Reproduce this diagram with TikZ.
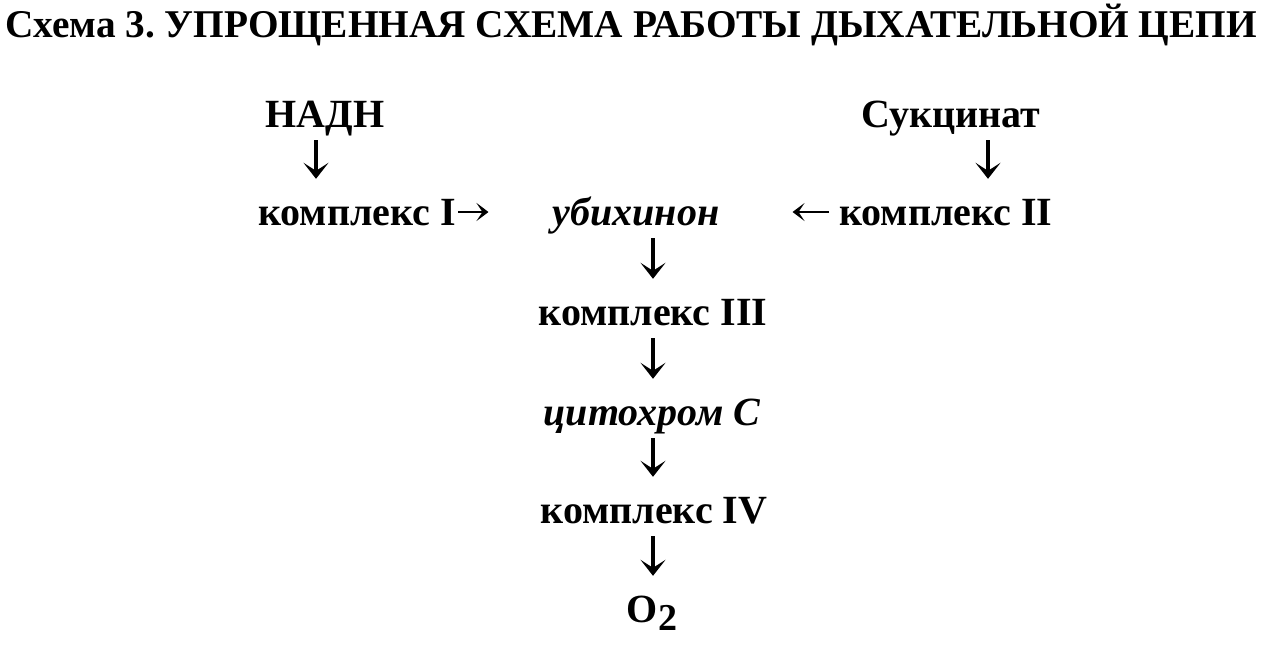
\documentclass[tikz,border=0pt]{standalone}
\usepackage{fontspec}
\setmainfont{Liberation Serif}
\usetikzlibrary{arrows.meta,calc}
\frenchspacing
\tikzset{
  lbl/.style={font=\fontsize{40}{40}\selectfont\bfseries, inner sep=0pt, text height=27pt, text depth=0pt},
  ital/.style={lbl, font=\fontsize{40}{40}\selectfont\bfseries\itshape},
  ttl/.style={font=\fontsize{39.3}{39.3}\selectfont\bfseries, inner sep=0pt, anchor=base west},
  darr/.style={line width=3.2pt, -{Stealth[length=16pt,width=25pt,inset=8pt]}, shorten <=13pt, shorten >=19pt},
  harr/.style={line width=2.2pt, -{Stealth[length=12pt,width=18pt,inset=6pt]}}
}
\begin{document}
\begin{tikzpicture}[x=1pt,y=1pt]
\useasboundingbox (0,0) rectangle (1273,-653);
\node[ttl] (title) at (5,-37) {Схема 3. УПРОЩЕННАЯ СХЕМА РАБОТЫ ДЫХАТЕЛЬНОЙ ЦЕПИ};
\node[lbl, anchor=base] (nadh) at (325,-127) {НАДН};
\node[lbl, anchor=base] (suc) at (951,-127) {Сукцинат};
\node[lbl, anchor=base west] (k1) at (258,-225) {комплекс I};
\node[ital, anchor=base] (ubi) at (636,-225) {убихинон};
\node[lbl, anchor=base west] (k2) at (839,-225) {комплекс II};
\node[lbl, anchor=base] (k3) at (653,-325) {комплекс III};
\node[ital, anchor=base] (cyt) at (652,-425) {цитохром С};
\node[lbl, anchor=base] (k4) at (654,-523) {комплекс IV};
\node[lbl, anchor=base] (o2) at (652,-622) {O\raisebox{-8pt}{\fontsize{38}{38}\selectfont 2}};
\draw[darr] ([xshift=-9pt]nadh.south) -- ([xshift=-9pt]nadh.south |- k1.north);
\draw[darr] ([xshift=37pt]suc.south) -- ([xshift=37pt]suc.south |- k2.north);
\draw[harr, shorten <=2pt, shorten >=64pt] ([yshift=13pt]k1.base east) -- ([yshift=13pt]ubi.base west);
\draw[harr, shorten <=10pt, shorten >=73pt] ([yshift=13pt]k2.base west) -- ([yshift=13pt]ubi.base east);
\draw[darr] (k3.north |- ubi.south) -- (k3.north);
\draw[darr] (k3.south) -- (k3.south |- cyt.north);
\draw[darr] (k3.south |- cyt.south) -- (k3.south |- k4.north);
\draw[darr] (k3.south |- k4.south) -- (k3.south |- o2.north);
\end{tikzpicture}
\end{document}
